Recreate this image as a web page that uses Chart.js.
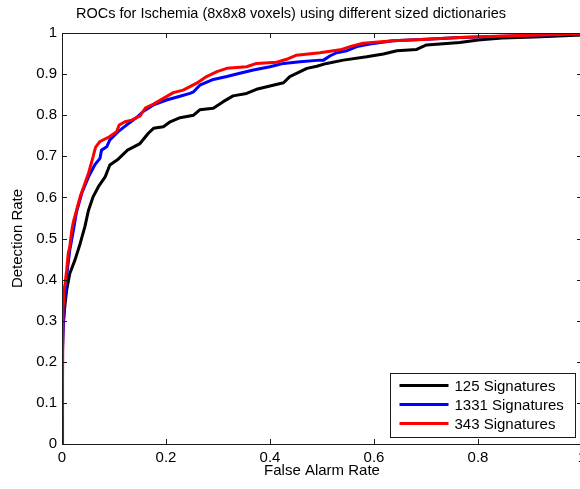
<!DOCTYPE html>
<html>
<head>
<meta charset="utf-8">
<script src="https://cdn.jsdelivr.net/npm/chart.js@4/dist/chart.umd.min.js"></script>
<style>
  html, body { margin: 0; padding: 0; background: #fff; overflow: hidden; }
  #rocChart { display: block; }
</style>
</head>
<body>
<canvas id="rocChart" width="584" height="489"></canvas>
<script>
// values
const fpr125 = [0, 0.001, 0.003, 0.006, 0.009, 0.015, 0.025, 0.035, 0.044, 0.051, 0.06, 0.07, 0.083, 0.092, 0.108, 0.126, 0.15, 0.166, 0.176, 0.195, 0.208, 0.227, 0.253, 0.265, 0.291, 0.31, 0.329, 0.355, 0.374, 0.4, 0.426, 0.438, 0.458, 0.471, 0.49, 0.509, 0.541, 0.586, 0.618, 0.644, 0.682, 0.701, 0.746, 0.765, 0.8, 0.846, 0.909, 1];
const tpr125 = [0, 0.29, 0.302, 0.342, 0.375, 0.415, 0.448, 0.488, 0.529, 0.569, 0.602, 0.626, 0.65, 0.679, 0.693, 0.715, 0.731, 0.756, 0.768, 0.772, 0.784, 0.794, 0.8, 0.813, 0.817, 0.833, 0.847, 0.853, 0.863, 0.871, 0.879, 0.894, 0.906, 0.914, 0.919, 0.926, 0.934, 0.942, 0.949, 0.957, 0.96, 0.971, 0.975, 0.977, 0.983, 0.988, 0.99, 0.995];

const fpr1331 = [0, 0.001, 0.004, 0.007, 0.011, 0.015, 0.022, 0.028, 0.038, 0.051, 0.063, 0.073, 0.076, 0.086, 0.092, 0.108, 0.124, 0.144, 0.156, 0.176, 0.201, 0.227, 0.246, 0.253, 0.265, 0.291, 0.317, 0.342, 0.368, 0.4, 0.426, 0.458, 0.496, 0.503, 0.515, 0.528, 0.548, 0.567, 0.592, 0.637, 0.701, 0.765, 0.85, 1];
const tpr1331 = [0, 0.23, 0.326, 0.383, 0.431, 0.472, 0.521, 0.565, 0.61, 0.65, 0.679, 0.695, 0.715, 0.723, 0.74, 0.76, 0.776, 0.795, 0.809, 0.825, 0.837, 0.846, 0.853, 0.857, 0.873, 0.887, 0.894, 0.902, 0.91, 0.918, 0.926, 0.93, 0.934, 0.934, 0.944, 0.952, 0.957, 0.967, 0.973, 0.981, 0.985, 0.989, 0.992, 0.998];

const fpr343 = [0, 0.002, 0.003, 0.006, 0.009, 0.012, 0.015, 0.019, 0.022, 0.028, 0.035, 0.044, 0.051, 0.06, 0.063, 0.065, 0.073, 0.092, 0.105, 0.11, 0.121, 0.134, 0.15, 0.16, 0.176, 0.195, 0.214, 0.233, 0.259, 0.278, 0.298, 0.317, 0.355, 0.374, 0.413, 0.432, 0.451, 0.496, 0.535, 0.557, 0.579, 0.637, 0.701, 0.765, 0.85, 1];
const tpr343 = [0, 0.34, 0.367, 0.391, 0.423, 0.464, 0.48, 0.521, 0.541, 0.569, 0.602, 0.634, 0.659, 0.7, 0.715, 0.723, 0.736, 0.748, 0.76, 0.776, 0.784, 0.788, 0.798, 0.817, 0.827, 0.841, 0.855, 0.861, 0.878, 0.894, 0.906, 0.914, 0.918, 0.926, 0.929, 0.936, 0.946, 0.952, 0.959, 0.968, 0.975, 0.981, 0.985, 0.989, 0.993, 0.998];

const seriesNames = ["125 Signatures", "1331 Signatures", "343 Signatures"];
const seriesColors = ["#000000", "#0000ff", "#ff0000"];

const xTickValues = [0, 0.2, 0.4, 0.6, 0.8, 1];
const xTickLabels = ["0", "0.2", "0.4", "0.6", "0.8", "1"];
const yTickValues = [0, 0.1, 0.2, 0.3, 0.4, 0.5, 0.6, 0.7, 0.8, 0.9, 1];
const yTickLabels = ["0", "0.1", "0.2", "0.3", "0.4", "0.5", "0.6", "0.7", "0.8", "0.9", "1"];

const FONT = "'Liberation Sans', Arial, Helvetica, sans-serif";
const AXIS_COLOR = "#1a1a1a";

const toPoints = (xs, ys) => xs.map((x, i) => ({ x: x, y: ys[i] }));

// matlab style box with ticks pointing inwards
const matlabBox = {
  id: "matlabBox",
  afterDatasetsDraw(chart) {
    const { ctx, chartArea: a, scales } = chart;
    const len = 5;
    ctx.save();
    ctx.strokeStyle = AXIS_COLOR;
    ctx.lineWidth = 1;
    ctx.beginPath();
    scales.x.ticks.forEach((t) => {
      const px = Math.round(scales.x.getPixelForValue(t.value)) + 0.5;
      ctx.moveTo(px, a.bottom);
      ctx.lineTo(px, a.bottom - len);
      ctx.moveTo(px, a.top);
      ctx.lineTo(px, a.top + len);
    });
    scales.y.ticks.forEach((t) => {
      const py = Math.round(scales.y.getPixelForValue(t.value)) + 0.5;
      ctx.moveTo(a.left, py);
      ctx.lineTo(a.left + len, py);
      ctx.moveTo(a.right, py);
      ctx.lineTo(a.right - len, py);
    });
    ctx.stroke();
    ctx.strokeRect(Math.round(a.left) + 0.5, Math.round(a.top) + 0.5, Math.round(a.right - a.left), Math.round(a.bottom - a.top));
    ctx.restore();
  },
};

// legend box drawn inside the lower right corner
const boxLegend = {
  id: "boxLegend",
  afterDraw(chart) {
    const { ctx, chartArea: a } = chart;
    const w = 185, h = 64;
    const x0 = Math.round(a.right - 7 - w) + 0.5;
    const y0 = Math.round(a.bottom - 7 - h) + 0.5;
    ctx.save();
    ctx.fillStyle = "#fff";
    ctx.fillRect(x0, y0, w, h);
    ctx.strokeStyle = AXIS_COLOR;
    ctx.lineWidth = 1;
    ctx.strokeRect(x0, y0, w, h);
    ctx.font = "15px " + FONT;
    ctx.textBaseline = "middle";
    ctx.textAlign = "left";
    chart.data.datasets.forEach((ds, i) => {
      const cy = y0 + 12 + i * 19;
      ctx.strokeStyle = ds.borderColor;
      ctx.lineWidth = 3;
      ctx.beginPath();
      ctx.moveTo(x0 + 9, cy);
      ctx.lineTo(x0 + 58, cy);
      ctx.stroke();
      ctx.fillStyle = "#000";
      ctx.fillText(ds.label, x0 + 64, cy + 1);
    });
    ctx.restore();
  },
};

const ctx = document.getElementById("rocChart").getContext("2d");
const rocChart = new Chart(ctx, {
  type: "line",
  data: {
    datasets: [
      { label: seriesNames[0], data: toPoints(fpr125, tpr125), borderColor: seriesColors[0], order: 2 },
      { label: seriesNames[1], data: toPoints(fpr1331, tpr1331), borderColor: seriesColors[1], order: 1 },
      { label: seriesNames[2], data: toPoints(fpr343, tpr343), borderColor: seriesColors[2], order: 0 },
    ],
  },
  options: {
    responsive: false,
    animation: false,
    events: [],
    elements: {
      point: { radius: 0 },
      line: { borderWidth: 3, tension: 0, fill: false, borderJoinStyle: "round" },
    },
    layout: { padding: { left: 0, right: 2, top: 0, bottom: 0 } },
    plugins: {
      legend: { display: false },
      tooltip: { enabled: false },
      title: {
        display: true,
        text: "ROCs for Ischemia (8x8x8 voxels) using different sized dictionaries",
        color: "#000",
        font: { family: FONT, size: 14.5, weight: "normal" },
        padding: { top: 5, bottom: 10.6 },
      },
    },
    scales: {
      x: {
        type: "linear",
        min: 0,
        max: 1,
        border: { display: false },
        grid: { display: false, drawTicks: false },
        afterBuildTicks: (scale) => {
          scale.ticks = xTickValues.map((v) => ({ value: v }));
        },
        afterFit: (scale) => {
          scale.height = 45;
          scale.paddingLeft = 0;
          scale.paddingRight = 0;
        },
        ticks: {
          autoSkip: false,
          maxRotation: 0,
          padding: 5,
          color: "#000",
          font: { family: FONT, size: 15 },
          callback: (value, i) => xTickLabels[i],
        },
        title: {
          display: true,
          text: "False Alarm Rate",
          color: "#000",
          font: { family: FONT, size: 15 },
          padding: { top: 0, bottom: 9 },
        },
      },
      y: {
        type: "linear",
        min: 0,
        max: 1,
        border: { display: false },
        grid: { display: false, drawTicks: false },
        afterBuildTicks: (scale) => {
          scale.ticks = yTickValues.map((v) => ({ value: v }));
        },
        afterFit: (scale) => {
          scale.width = 62;
          scale.paddingTop = 0;
          scale.paddingBottom = 0;
        },
        ticks: {
          autoSkip: false,
          padding: 5,
          color: "#000",
          font: { family: FONT, size: 15 },
          callback: (value, i) => yTickLabels[i],
        },
        title: {
          display: true,
          text: "Detection Rate",
          color: "#000",
          font: { family: FONT, size: 15 },
          padding: { top: 9, bottom: 0 },
        },
      },
    },
  },
  plugins: [matlabBox, boxLegend],
});
</script>
</body>
</html>
